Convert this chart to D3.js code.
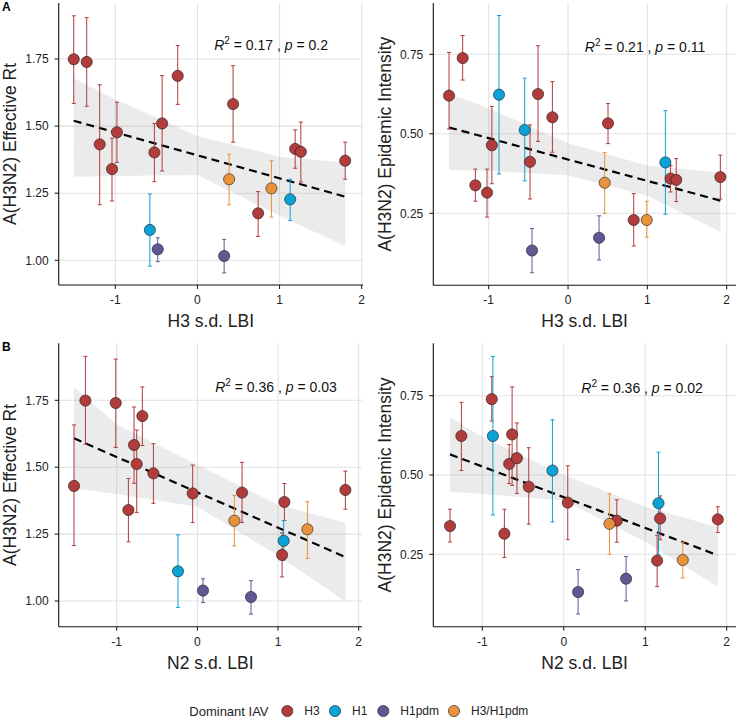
<!DOCTYPE html>
<meta charset="utf-8">
<style>
  body { margin: 0; background: #fff; }
  svg { font-family: "Liberation Sans", Arial, Helvetica, sans-serif; }
</style>
<svg width="737" height="718"></svg>
<script src="https://cdn.jsdelivr.net/npm/d3@7"></script>
<script>

// ---- data: [s.d. LBI, estimate, lower, upper, dominant subtype]
var rtByH3 = [
  [-1.506, 1.749, 1.584, 1.911, "H3"],
  [-1.348, 1.739, 1.574, 1.904, "H3"],
  [-1.190, 1.432, 1.207, 1.654, "H3"],
  [-1.040, 1.340, 1.221, 1.455, "H3"],
  [-0.980, 1.477, 1.365, 1.589, "H3"],
  [-0.524, 1.402, 1.293, 1.510, "H3"],
  [-0.430, 1.510, 1.333, 1.688, "H3"],
  [-0.240, 1.687, 1.581, 1.800, "H3"],
  [0.434, 1.582, 1.440, 1.725, "H3"],
  [0.739, 1.175, 1.089, 1.256, "H3"],
  [1.190, 1.415, 1.343, 1.486, "H3"],
  [1.259, 1.404, 1.292, 1.515, "H3"],
  [1.799, 1.371, 1.302, 1.440, "H3"],
  [-0.579, 1.113, 0.978, 1.247, "H1"],
  [1.129, 1.227, 1.148, 1.302, "H1"],
  [-0.483, 1.041, 0.995, 1.084, "H1pdm"],
  [0.325, 1.016, 0.953, 1.078, "H1pdm"],
  [0.386, 1.302, 1.207, 1.395, "H3/H1pdm"],
  [0.901, 1.268, 1.161, 1.371, "H3/H1pdm"]
];

var intensityByH3 = [
  [-1.500, 0.620, 0.515, 0.756, "H3"],
  [-1.328, 0.738, 0.669, 0.809, "H3"],
  [-1.168, 0.338, 0.288, 0.389, "H3"],
  [-1.021, 0.315, 0.238, 0.389, "H3"],
  [-0.960, 0.464, 0.343, 0.586, "H3"],
  [-0.479, 0.412, 0.295, 0.528, "H3"],
  [-0.378, 0.625, 0.476, 0.777, "H3"],
  [-0.197, 0.552, 0.442, 0.664, "H3"],
  [0.504, 0.533, 0.469, 0.595, "H3"],
  [0.828, 0.229, 0.147, 0.312, "H3"],
  [1.292, 0.359, 0.317, 0.400, "H3"],
  [1.364, 0.355, 0.287, 0.422, "H3"],
  [1.920, 0.364, 0.295, 0.433, "H3"],
  [-0.870, 0.623, 0.374, 0.872, "H1"],
  [-0.546, 0.512, 0.352, 0.675, "H1"],
  [1.227, 0.410, 0.247, 0.573, "H1"],
  [-0.454, 0.133, 0.063, 0.202, "H1pdm"],
  [0.391, 0.173, 0.103, 0.242, "H1pdm"],
  [0.462, 0.346, 0.250, 0.441, "H3/H1pdm"],
  [0.992, 0.229, 0.175, 0.288, "H3/H1pdm"]
];

var rtByN2 = [
  [-1.529, 1.430, 1.207, 1.658, "H3"],
  [-1.388, 1.749, 1.586, 1.914, "H3"],
  [-1.012, 1.740, 1.574, 1.904, "H3"],
  [-0.855, 1.340, 1.221, 1.458, "H3"],
  [-0.785, 1.583, 1.440, 1.725, "H3"],
  [-0.752, 1.512, 1.331, 1.639, "H3"],
  [-0.682, 1.691, 1.581, 1.800, "H3"],
  [-0.545, 1.477, 1.365, 1.588, "H3"],
  [-0.058, 1.402, 1.293, 1.508, "H3"],
  [0.554, 1.405, 1.293, 1.518, "H3"],
  [1.050, 1.172, 1.090, 1.255, "H3"],
  [1.079, 1.370, 1.301, 1.439, "H3"],
  [1.835, 1.415, 1.343, 1.485, "H3"],
  [-0.240, 1.111, 0.976, 1.247, "H1"],
  [1.070, 1.225, 1.153, 1.300, "H1"],
  [0.070, 1.039, 0.994, 1.083, "H1pdm"],
  [0.665, 1.015, 0.951, 1.076, "H1pdm"],
  [0.459, 1.300, 1.206, 1.395, "H3/H1pdm"],
  [1.364, 1.268, 1.159, 1.371, "H3/H1pdm"]
];

var intensityByN2 = [
  [-1.396, 0.339, 0.289, 0.392, "H3"],
  [-1.257, 0.623, 0.514, 0.729, "H3"],
  [-0.884, 0.739, 0.670, 0.810, "H3"],
  [-0.729, 0.315, 0.240, 0.392, "H3"],
  [-0.670, 0.535, 0.473, 0.596, "H3"],
  [-0.634, 0.628, 0.467, 0.778, "H3"],
  [-0.575, 0.553, 0.442, 0.664, "H3"],
  [-0.430, 0.463, 0.345, 0.586, "H3"],
  [0.049, 0.413, 0.296, 0.529, "H3"],
  [0.651, 0.356, 0.288, 0.422, "H3"],
  [1.146, 0.230, 0.148, 0.310, "H3"],
  [1.183, 0.363, 0.296, 0.434, "H3"],
  [1.891, 0.360, 0.319, 0.400, "H3"],
  [-0.870, 0.623, 0.374, 0.874, "H1"],
  [-0.139, 0.514, 0.352, 0.674, "H1"],
  [1.163, 0.411, 0.248, 0.572, "H1"],
  [0.176, 0.131, 0.062, 0.202, "H1pdm"],
  [0.765, 0.173, 0.103, 0.243, "H1pdm"],
  [0.561, 0.346, 0.250, 0.441, "H3/H1pdm"],
  [1.461, 0.232, 0.175, 0.288, "H3/H1pdm"]
];

// fitted line, value at the smallest and largest LBI
var fitRtH3 = [1.520, 1.237];
var fitIntensityH3 = [0.520, 0.290];
var fitRtN2 = [1.608, 1.164];
var fitIntensityN2 = [0.565, 0.247];

// confidence band: [LBI, lower, upper]
var bandRtH3 = [[-1.506, 1.311, 1.678], [-1, 1.314, 1.600], [0, 1.318, 1.463], [1, 1.166, 1.386], [1.799, 1.053, 1.364]];
var bandIntensityH3 = [[-1.5, 0.386, 0.627], [-1, 0.383, 0.580], [0, 0.370, 0.470], [1, 0.305, 0.400], [1.92, 0.192, 0.378]];
var bandRtN2 = [[-1.529, 1.421, 1.801], [-1, 1.400, 1.660], [0, 1.352, 1.508], [1, 1.170, 1.360], [1.835, 0.998, 1.292]];
var bandIntensityN2 = [[-1.396, 0.447, 0.682], [-1, 0.440, 0.620], [0, 0.420, 0.500], [1, 0.290, 0.400], [1.891, 0.148, 0.335]];

// R^2 and p
var statRtH3 = ["0.17", "0.2"];
var statIntensityH3 = ["0.21", "0.11"];
var statRtN2 = ["0.36", "0.03"];
var statIntensityN2 = ["0.36", "0.02"];

var subtypes = ["H3", "H1", "H1pdm", "H3/H1pdm"];
var xTicks = [-1, 0, 1, 2];
var rtTicks = [1.00, 1.25, 1.50, 1.75];
var intensityTicks = [0.25, 0.50, 0.75];

// ---- styling / layout
var color = d3.scaleOrdinal()
  .domain(subtypes)
  .range(["#b23b3b", "#0aa3d8", "#5e5995", "#e8923d"]);

var panels = [
  {data: rtByH3, fit: fitRtH3, band: bandRtH3, stat: statRtH3, yTicks: rtTicks,
   xTitle: "H3 s.d. LBI", yTitle: "A(H3N2) Effective Rt", letter: "A",
   left: 58.7, right: 363, top: 3, bottom: 285,
   xRange: [115.3, 361.7], yDom: [1.00, 1.75], yRange: [260.3, 59], lab: [155.5, 46.5]},
  {data: intensityByH3, fit: fitIntensityH3, band: bandIntensityH3, stat: statIntensityH3, yTicks: intensityTicks,
   xTitle: "H3 s.d. LBI", yTitle: "A(H3N2) Epidemic Intensity", letter: "",
   left: 433.3, right: 736, top: 3, bottom: 285.3,
   xRange: [488.7, 726.7], yDom: [0.25, 0.75], yRange: [213.3, 54.3], lab: [151.5, 49]},
  {data: rtByN2, fit: fitRtN2, band: bandRtN2, stat: statRtN2, yTicks: rtTicks,
   xTitle: "N2 s.d. LBI", yTitle: "A(H3N2) Effective Rt", letter: "B",
   left: 58.7, right: 362, top: 343.3, bottom: 626.7,
   xRange: [116.7, 358.7], yDom: [1.00, 1.75], yRange: [601, 400.3], lab: [156.5, 48.5]},
  {data: intensityByN2, fit: fitIntensityN2, band: bandIntensityN2, stat: statIntensityN2, yTicks: intensityTicks,
   xTitle: "N2 s.d. LBI", yTitle: "A(H3N2) Epidemic Intensity", letter: "",
   left: 433.3, right: 736, top: 343.3, bottom: 626.7,
   xRange: [482.3, 726.7], yDom: [0.25, 0.75], yRange: [554.3, 395.7], lab: [148, 50]}
];

var svg = d3.select("svg");

panels.forEach(function(p) {
  var x = d3.scaleLinear().domain([-1, 2]).range(p.xRange);
  var y = d3.scaleLinear().domain(p.yDom).range(p.yRange);
  var g = svg.append("g");

  // grid
  g.selectAll(".vgrid").data(xTicks).enter().append("line")
    .attr("x1", function(d) { return x(d); }).attr("x2", function(d) { return x(d); })
    .attr("y1", p.top).attr("y2", p.bottom)
    .attr("stroke", "#e2e2e2").attr("stroke-width", 1.1);
  g.selectAll(".hgrid").data(p.yTicks).enter().append("line")
    .attr("y1", function(d) { return y(d); }).attr("y2", function(d) { return y(d); })
    .attr("x1", p.left).attr("x2", p.right)
    .attr("stroke", "#e2e2e2").attr("stroke-width", 1.1);

  // confidence band
  var area = d3.area()
    .x(function(d) { return x(d[0]); })
    .y0(function(d) { return y(d[1]); })
    .y1(function(d) { return y(d[2]); });
  g.append("path").datum(p.band)
    .attr("d", area)
    .attr("fill", "#999").attr("fill-opacity", 0.2);

  // fitted line
  var ext = d3.extent(p.data, function(d) { return d[0]; });
  g.append("line")
    .attr("x1", x(ext[0])).attr("y1", y(p.fit[0]))
    .attr("x2", x(ext[1])).attr("y2", y(p.fit[1]))
    .attr("stroke", "#000").attr("stroke-width", 2.2)
    .attr("stroke-dasharray", "8,5");

  // error bars
  var eb = g.selectAll(".eb").data(p.data).enter().append("g")
    .attr("stroke", function(d) { return color(d[4]); })
    .attr("stroke-width", 1);
  eb.append("line")
    .attr("x1", function(d) { return x(d[0]); }).attr("x2", function(d) { return x(d[0]); })
    .attr("y1", function(d) { return y(d[2]); }).attr("y2", function(d) { return y(d[3]); });
  eb.append("line")
    .attr("x1", function(d) { return x(d[0]) - 2; }).attr("x2", function(d) { return x(d[0]) + 2; })
    .attr("y1", function(d) { return y(d[2]); }).attr("y2", function(d) { return y(d[2]); });
  eb.append("line")
    .attr("x1", function(d) { return x(d[0]) - 2; }).attr("x2", function(d) { return x(d[0]) + 2; })
    .attr("y1", function(d) { return y(d[3]); }).attr("y2", function(d) { return y(d[3]); });

  // points
  g.selectAll(".pt").data(p.data).enter().append("circle")
    .attr("cx", function(d) { return x(d[0]); })
    .attr("cy", function(d) { return y(d[1]); })
    .attr("r", 5.6)
    .attr("fill", function(d) { return color(d[4]); })
    .attr("stroke", "#1a1a1a").attr("stroke-width", 0.6);

  // axes
  g.append("line").attr("x1", p.left).attr("x2", p.left).attr("y1", p.top).attr("y2", p.bottom)
    .attr("stroke", "#111").attr("stroke-width", 1.1);
  g.append("line").attr("x1", p.left).attr("x2", p.right).attr("y1", p.bottom).attr("y2", p.bottom)
    .attr("stroke", "#111").attr("stroke-width", 1.1);

  g.selectAll(".xt").data(xTicks).enter().append("line")
    .attr("x1", function(d) { return x(d); }).attr("x2", function(d) { return x(d); })
    .attr("y1", p.bottom).attr("y2", p.bottom + 4)
    .attr("stroke", "#111");
  g.selectAll(".xl").data(xTicks).enter().append("text")
    .attr("x", function(d) { return x(d); })
    .attr("y", p.bottom + 19)
    .attr("text-anchor", "middle")
    .attr("font-size", 12).attr("fill", "#222")
    .text(function(d) { return d; });

  g.selectAll(".yt").data(p.yTicks).enter().append("line")
    .attr("x1", p.left - 4).attr("x2", p.left)
    .attr("y1", function(d) { return y(d); }).attr("y2", function(d) { return y(d); })
    .attr("stroke", "#111");
  g.selectAll(".yl").data(p.yTicks).enter().append("text")
    .attr("x", p.left - 10)
    .attr("y", function(d) { return y(d); })
    .attr("dy", "0.35em")
    .attr("text-anchor", "end")
    .attr("font-size", 12).attr("fill", "#222")
    .text(function(d) { return d3.format(".2f")(d); });

  // titles
  g.append("text")
    .attr("x", (p.left + p.right) / 2)
    .attr("y", p.bottom + 42)
    .attr("text-anchor", "middle")
    .attr("font-size", 17.5).attr("fill", "#222")
    .text(p.xTitle);
  g.append("text")
    .attr("transform", "translate(" + (p.left - 42.5) + "," + ((p.top + p.bottom) / 2) + ") rotate(-90)")
    .attr("text-anchor", "middle")
    .attr("font-size", 17.5).attr("fill", "#222")
    .text(p.yTitle);

  // R^2 / p label
  var t = g.append("text")
    .attr("x", p.left + p.lab[0])
    .attr("y", p.top + p.lab[1])
    .attr("font-size", 14).attr("fill", "#111");
  t.append("tspan").attr("font-style", "italic").text("R");
  t.append("tspan").attr("font-size", 10).attr("dy", -6).text("2");
  t.append("tspan").attr("dy", 6).text(" = " + p.stat[0] + " , ");
  t.append("tspan").attr("font-style", "italic").text("p");
  t.append("tspan").text(" = " + p.stat[1]);

  if (p.letter) {
    svg.append("text")
      .attr("x", 2).attr("y", p.top + 8)
      .attr("font-size", 12).attr("font-weight", "bold")
      .text(p.letter);
  }
});

// legend
var lg = svg.append("g");
lg.append("text").attr("x", 189.3).attr("y", 715.5)
  .attr("font-size", 13).attr("fill", "#222").text("Dominant IAV");
var keyX = [287.3, 335, 383.3, 454];
var key = lg.selectAll(".key").data(subtypes).enter().append("g");
key.append("circle")
  .attr("cx", function(d, i) { return keyX[i]; })
  .attr("cy", 711).attr("r", 5.6)
  .attr("fill", function(d) { return color(d); })
  .attr("stroke", "#1a1a1a").attr("stroke-width", 0.6);
key.append("text")
  .attr("x", function(d, i) { return keyX[i] + 17; })
  .attr("y", 715.2)
  .attr("font-size", 12).attr("fill", "#222")
  .text(function(d) { return d; });

</script>
